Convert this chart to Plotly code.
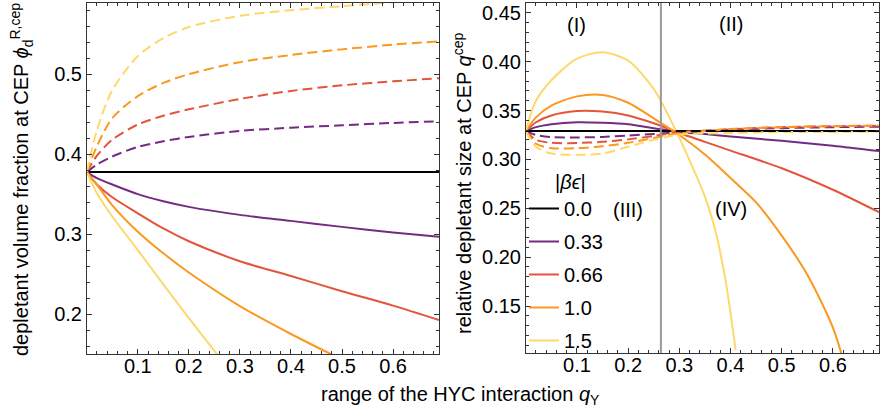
import plotly.graph_objects as go

FONT = "Liberation Sans, Arial, sans-serif"

# ---------------- data ----------------
eps_labels = ["0.0", "0.33", "0.66", "1.0", "1.5"]
legend_title = "|<i>βϵ</i>|"
colors = ["#000000", "#732C82", "#E3553B", "#FB981F", "#FDD86A"]

# Left panel: depletant volume fraction at CEP vs q_Y
qL_flat = [0.0, 0.69]
phiL_black = [0.3775, 0.3775]

qL = [0.0, 0.02, 0.05, 0.1, 0.15, 0.2, 0.3, 0.4, 0.5, 0.6, 0.69]
phiL_solid_033 = [0.3775, 0.370, 0.362, 0.350, 0.341, 0.334, 0.324, 0.3165, 0.309, 0.302, 0.2965]
phiL_solid_066 = [0.3775, 0.362, 0.346, 0.326, 0.307, 0.291, 0.266, 0.2475, 0.2285, 0.2105, 0.1925]
qL_solid_10 = [0.0, 0.02, 0.05, 0.1, 0.15, 0.2, 0.3, 0.4, 0.5]
phiL_solid_10 = [0.3775, 0.3615, 0.336, 0.303, 0.276, 0.252, 0.210, 0.175, 0.143]
qL_solid_15 = [0.0, 0.02, 0.05, 0.1, 0.15, 0.2, 0.3]
phiL_solid_15 = [0.3775, 0.351, 0.322, 0.280, 0.237, 0.195, 0.113]

phiL_dash_033 = [0.3775, 0.387, 0.397, 0.409, 0.416, 0.4215, 0.429, 0.433, 0.436, 0.439, 0.441]
phiL_dash_066 = [0.3775, 0.398, 0.418, 0.437, 0.448, 0.456, 0.469, 0.479, 0.486, 0.491, 0.495]
phiL_dash_10 = [0.3775, 0.410, 0.445, 0.4725, 0.489, 0.500, 0.515, 0.524, 0.531, 0.537, 0.541]
phiL_dash_15 = [0.3775, 0.430, 0.480, 0.5225, 0.545, 0.559, 0.573, 0.580, 0.585, 0.590, 0.594]

# Right panel: relative depletant size at CEP vs q_Y
qR_flat = [0.0, 0.69]
qcepR_black = [0.329, 0.329]

qR = [0.0, 0.02, 0.05, 0.1, 0.15, 0.2, 0.25, 0.3, 0.35, 0.4, 0.5, 0.6, 0.69]
qcep_solid_033 = [0.329, 0.333, 0.336, 0.338, 0.3375, 0.336, 0.332, 0.328, 0.326, 0.3235, 0.319, 0.314, 0.3085]
qcep_solid_066 = [0.329, 0.338, 0.345, 0.3495, 0.349, 0.345, 0.337, 0.327, 0.318, 0.309, 0.291, 0.269, 0.246]
qR_solid_10 = [0.0, 0.02, 0.05, 0.1, 0.15, 0.2, 0.25, 0.3, 0.35, 0.4, 0.45, 0.5, 0.55, 0.6, 0.62]
qcep_solid_10 = [0.329, 0.343, 0.355, 0.3645, 0.366, 0.358, 0.342, 0.325, 0.305, 0.281, 0.256, 0.222, 0.182, 0.128, 0.095]
qR_solid_15 = [0.0, 0.02, 0.05, 0.1, 0.15, 0.2, 0.25, 0.3, 0.33, 0.35, 0.37, 0.39, 0.41]
qcep_solid_15 = [0.329, 0.360, 0.381, 0.403, 0.4097, 0.401, 0.372, 0.322, 0.287, 0.262, 0.228, 0.177, 0.105]

qcep_dash_033 = [0.329, 0.325, 0.3228, 0.3225, 0.323, 0.3245, 0.326, 0.328, 0.329, 0.3305, 0.332, 0.333, 0.3335]
qcep_dash_066 = [0.329, 0.320, 0.317, 0.3168, 0.318, 0.3205, 0.324, 0.328, 0.3295, 0.331, 0.333, 0.334, 0.3346]
qcep_dash_10 = [0.329, 0.316, 0.3115, 0.3115, 0.3135, 0.317, 0.322, 0.327, 0.329, 0.331, 0.333, 0.334, 0.3346]
qcep_dash_15 = [0.329, 0.313, 0.306, 0.3048, 0.306, 0.313, 0.320, 0.3255, 0.3265, 0.327, 0.328, 0.328, 0.3285]

q_boundary = 0.264  # grey vertical separator in right panel

region_labels = ["(I)", "(II)", "(III)", "(IV)"]
region_q = [0.1, 0.4, 0.2, 0.4]
region_y = [0.438, 0.439, 0.248, 0.249]

# ---------------- figure ----------------
fig = go.Figure()
LW = 2
DASH = "10px,5px"

left_solid = [(qL_flat, phiL_black), (qL, phiL_solid_033), (qL, phiL_solid_066),
              (qL_solid_10, phiL_solid_10), (qL_solid_15, phiL_solid_15)]
left_dash = [(qL, phiL_dash_033), (qL, phiL_dash_066), (qL, phiL_dash_10), (qL, phiL_dash_15)]

for i, (xs, ys) in enumerate(left_solid):
    fig.add_trace(go.Scatter(x=xs, y=ys, mode="lines", xaxis="x", yaxis="y",
                             line=dict(color=colors[i], width=LW, shape="spline", smoothing=0.8),
                             showlegend=False, hoverinfo="skip"))
for i, (xs, ys) in enumerate(left_dash):
    fig.add_trace(go.Scatter(x=xs, y=ys, mode="lines", xaxis="x", yaxis="y",
                             line=dict(color=colors[i + 1], width=LW, dash=DASH, shape="spline", smoothing=0.8),
                             showlegend=False, hoverinfo="skip"))

right_solid = [(qR_flat, qcepR_black), (qR, qcep_solid_033), (qR, qcep_solid_066),
               (qR_solid_10, qcep_solid_10), (qR_solid_15, qcep_solid_15)]
right_dash = [(qR, qcep_dash_033), (qR, qcep_dash_066), (qR, qcep_dash_10), (qR, qcep_dash_15)]

for i, (xs, ys) in enumerate(right_solid):
    fig.add_trace(go.Scatter(x=xs, y=ys, mode="lines", xaxis="x2", yaxis="y2",
                             name=eps_labels[i], legendgroup="g%d" % i,
                             line=dict(color=colors[i], width=LW, shape="spline", smoothing=0.8),
                             showlegend=True, hoverinfo="skip"))
for i, (xs, ys) in enumerate(right_dash):
    fig.add_trace(go.Scatter(x=xs, y=ys, mode="lines", xaxis="x2", yaxis="y2",
                             line=dict(color=colors[i + 1], width=LW, dash=DASH, shape="spline", smoothing=0.8),
                             showlegend=False, hoverinfo="skip"))
fig.add_trace(go.Scatter(x=qR_flat, y=qcepR_black, mode="lines", xaxis="x2", yaxis="y2",
                         line=dict(color=colors[0], width=LW, dash=DASH),
                         showlegend=False, hoverinfo="skip"))

fig.add_shape(type="line", xref="x2", yref="y2 domain", x0=q_boundary, x1=q_boundary, y0=0, y1=1,
              line=dict(color="#9a9a9a", width=2), layer="above")

for lab, xq, yq in zip(region_labels, region_q, region_y):
    fig.add_annotation(x=xq, y=yq, xref="x2", yref="y2", text=lab, showarrow=False,
                       xanchor="center", yanchor="middle",
                       font=dict(family=FONT, size=20, color="black"))

ax_common = dict(showline=True, linecolor="#333333", linewidth=1, mirror="ticks",
                 ticks="inside", ticklen=5, tickwidth=1, tickcolor="#333333",
                 showgrid=False, zeroline=False,
                 tickfont=dict(family=FONT, size=20, color="black"),
                 minor=dict(ticks="inside", ticklen=3, tickwidth=1, tickcolor="#333333", showgrid=False))

H = 413.0
W = 880.0
fig.update_layout(
    width=880, height=413,
    margin=dict(l=0, r=0, t=0, b=0),
    paper_bgcolor="white", plot_bgcolor="white",
    xaxis=dict(ax_common, domain=[87 / W, 439 / W], range=[0.0005, 0.69], tickmode="linear",
               tick0=0, dtick=0.1, anchor="y", ticklabelstandoff=-6),
    yaxis=dict(ax_common, domain=[(H - 354) / H, (H - 3) / H], range=[0.15, 0.589],
               tickmode="linear", tick0=0, dtick=0.1, anchor="x"),
    xaxis2=dict(ax_common, domain=[526 / W, 879 / W], range=[0.0005, 0.69], tickmode="linear",
                tick0=0, dtick=0.1, anchor="y2", ticklabelstandoff=-6),
    yaxis2=dict(ax_common, domain=[(H - 353) / H, (H - 3) / H], range=[0.102, 0.46],
                tickmode="linear", tick0=0, dtick=0.05, tickformat=".2f", anchor="x2"),
    legend=dict(x=524 / W, y=(H - 189) / H, xanchor="left", yanchor="top",
                bgcolor="rgba(0,0,0,0)", font=dict(family=FONT, size=20, color="black"),
                tracegroupgap=4, itemwidth=30),
    showlegend=True,
)
fig.update_xaxes(minor=dict(dtick=0.02, tick0=0))
fig.update_layout(yaxis=dict(minor=dict(dtick=0.02, tick0=0)),
                  yaxis2=dict(minor=dict(dtick=0.01, tick0=0)))

fig.add_annotation(x=570 / W, y=(H - 182) / H, xref="paper", yref="paper", showarrow=False,
                   xanchor="center", yanchor="middle", text=legend_title,
                   font=dict(family=FONT, size=20, color="black"))
fig.add_annotation(x=460 / W, y=(H - 395) / H, xref="paper", yref="paper", showarrow=False,
                   xanchor="center", yanchor="middle",
                   text="range of the HYC interaction <i>q</i><sub>Y</sub>",
                   font=dict(family=FONT, size=20, color="black"))
fig.add_annotation(x=21 / W, y=(H - 180) / H, xref="paper", yref="paper", showarrow=False, textangle=-90,
                   xanchor="center", yanchor="middle",
                   text="depletant volume fraction at CEP <i>ϕ</i><sub>d</sub><sup>R,cep</sup>",
                   font=dict(family=FONT, size=20, color="black"))
fig.add_annotation(x=462 / W, y=(H - 184) / H, xref="paper", yref="paper", showarrow=False, textangle=-90,
                   xanchor="center", yanchor="middle",
                   text="relative depletant size at CEP <i>q</i><sup>cep</sup>",
                   font=dict(family=FONT, size=20, color="black"))

fig.write_html("out.html")
